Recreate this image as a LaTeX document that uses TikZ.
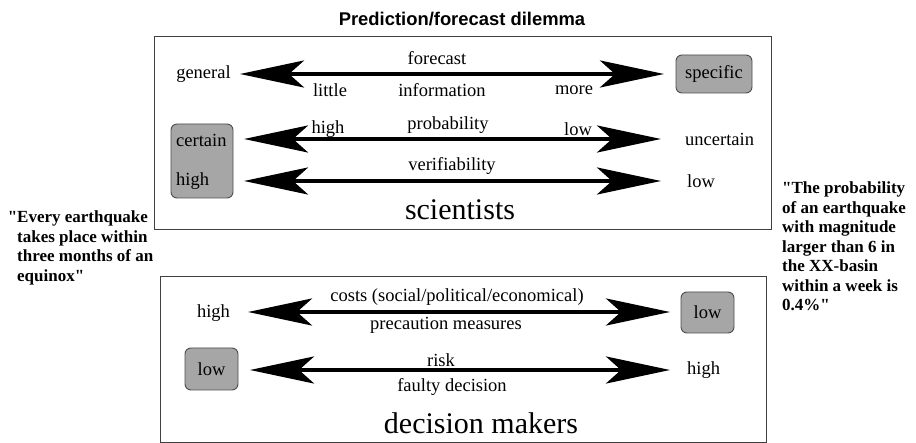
\documentclass[tikz,border=0pt]{standalone}
\usepackage{fontspec}
\setmainfont{Liberation Serif}
\newfontfamily\titlefont{Liberation Sans}
\newfontfamily\sayingfont[Ligatures=TeXOff]{Liberation Serif}
\usepackage{tikz}
\usetikzlibrary{arrows.meta}
\usepackage{xcolor}

\tikzset{
  word/.style={inner sep=0pt,font=\fontsize{18.5}{20}\selectfont},
  greybox/.style={draw=black!70,fill=black!35,rounded corners=6pt,line width=0.9pt,inner sep=0pt,font=\fontsize{18.5}{20}\selectfont},
  panel/.style={draw=black!75,line width=0.8pt},
  crowd/.style={inner sep=0pt,font=\fontsize{30}{32}\selectfont},
  saying/.style={inner sep=0pt,anchor=west,align=left,font=\sayingfont\bfseries\fontsize{17}{19.5}\selectfont},
  twoway/.style={{Stealth[length=64pt,width=27pt,inset=15pt]}-{Stealth[length=64pt,width=27pt,inset=15pt]},line width=4pt}
}

\begin{document}
\begin{tikzpicture}[x=1pt,y=-1pt,line cap=butt]
\useasboundingbox (0,0) rectangle (916,443);
\node[inner sep=0pt,font=\titlefont\bfseries\fontsize{18.4}{20}\selectfont] (title) at (462,19) {Prediction/forecast dilemma};
\draw[panel] (154,36) rectangle (771,229);
\draw[panel] (160,276) rectangle (766,442);

\node[word] (general) at (203.5,74) {general};
\node[greybox,minimum width=76,minimum height=38] (specific) at (714,74) {specific};
\coordinate (fcL) at (240,74);
\coordinate (fcR) at (664,74);
\draw[twoway] (fcL) -- (fcR);
\node[word] (forecast) at (437,58) {forecast};
\node[word] (little) at (330,90) {little};
\node[word] (information) at (442,90) {information};
\node[word] (more) at (574,90) {more};

\node[greybox,minimum width=62,minimum height=74] (certbox) at (202,161) {};
\node[word,anchor=west] (certain) at (176,140) {certain};
\node[word,anchor=west] (sure) at (176,181) {high};
\coordinate (prL) at (244,139);
\coordinate (prR) at (661,139);
\draw[twoway] (prL) -- (prR);
\node[word] (prhigh) at (328,129) {high};
\node[word] (probability) at (448,125) {probability};
\node[word] (prlow) at (578,129) {low};
\node[word,anchor=west] (uncertain) at (685,139) {uncertain};
\coordinate (veL) at (244,181);
\coordinate (veR) at (661,181);
\draw[twoway] (veL) -- (veR);
\node[word] (verifiability) at (452,166) {verifiability};
\node[word,anchor=west] (velow) at (687,181) {low};
\node[crowd] (scientists) at (460,210) {scientists};

\node[word] (cohigh) at (213.5,313) {high};
\node[greybox,minimum width=53,minimum height=41] (colow) at (707.5,312.5) {low};
\coordinate (coL) at (248,312);
\coordinate (coR) at (670,312);
\draw[twoway] (coL) -- (coR);
\node[word] (costs) at (457,297) {costs (social/political/economical)};
\node[word] (precaution) at (446,325) {precaution measures};
\node[greybox,minimum width=53,minimum height=42] (rilow) at (211.5,369) {low};
\coordinate (riL) at (250,370);
\coordinate (riR) at (670,370);
\draw[twoway] (riL) -- (riR);
\node[word] (risk) at (441,360) {risk};
\node[word] (faulty) at (452,387) {faulty decision};
\node[word,anchor=west] (rihigh) at (687,370) {high};
\node[crowd] (makers) at (481,423) {decision makers};

\node[saying] (equinox) at (17,248) {\llap{"}Every earthquake\\takes place within\\three months of an\\equinox"};
\node[saying] (chance) at (782,246.5) {"The probability\\of an earthquake\\with magnitude\\larger than 6 in\\the XX-basin\\within a week is\\0.4\%"};
\end{tikzpicture}
\end{document}
